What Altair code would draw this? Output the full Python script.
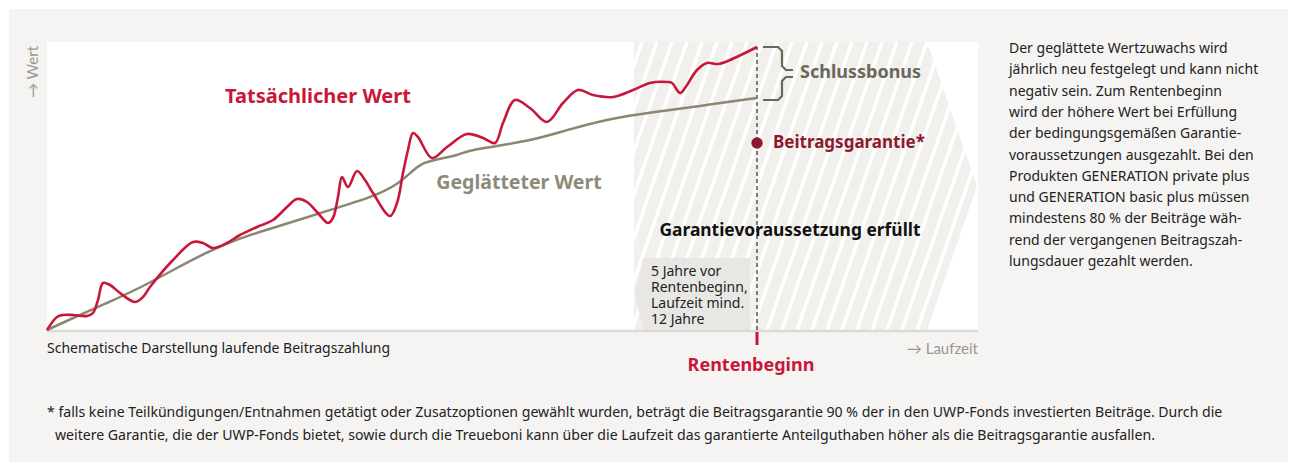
import altair as alt
import pandas as pd

# ---- data (x = Laufzeit, y = Wert, schematic units) ----
real_x = [0, 10, 16, 26, 40, 46, 51, 56, 63, 73, 88, 96, 103, 126, 146, 156, 166, 180, 193, 210,
          226, 240, 250, 260, 270, 281, 286, 291, 295, 301, 310, 318, 326, 343, 350, 356, 361, 366,
          371, 385, 400, 420, 436, 448, 456, 468, 483, 500, 516, 531, 546, 566, 586, 603, 620, 625,
          633, 638, 650, 660, 671, 683, 710]
real_y = [0, 13, 15, 15, 14, 17, 30, 47, 45, 37, 28, 33, 43, 70, 88, 87, 82, 87, 95, 103,
          110, 123, 131, 128, 118, 107, 112, 133, 153, 143, 159, 150, 137, 114, 127, 157, 180, 197,
          193, 172, 183, 196, 192, 187, 207, 230, 222, 208, 227, 240, 235, 233, 240, 247, 248, 247,
          237, 242, 260, 267, 266, 270, 283]

smooth_x = [0, 26, 60, 93, 126, 160, 193, 226, 286, 326, 353, 366, 376, 386, 413, 420, 480, 520,
            560, 606, 653, 710]
smooth_y = [0, 12, 27, 42, 60, 78, 92, 102, 121, 133, 147, 160, 167, 170, 175, 180, 188, 200,
            211, 218, 224, 232]

guarantee_x = [710]
guarantee_y = [187]

rente_x = 710
W, H = 931, 288

RED = "#c8173a"
DARKRED = "#8c1a2f"
GREY_LINE = "#8c8672"
GREY_TXT = "#9b978b"
FONT = "Noto Sans"

xs = alt.Scale(domain=[0, W], nice=False, zero=False)
ys = alt.Scale(domain=[0, H], nice=False, zero=False)

one = pd.DataFrame({"a": [0]})

def vrect(x, x2, y, y2, color):
    return alt.Chart(one).mark_rect(color=color).encode(
        x=alt.value(x), x2=alt.value(x2), y=alt.value(y), y2=alt.value(y2))

def txt(s, x, y, size=14, color="#222222", weight="normal", align="left",
        baseline="middle", angle=0, lh=None, font=FONT):
    kw = dict(font=font, fontSize=size, color=color, fontWeight=weight,
              align=align, baseline=baseline, angle=angle)
    if lh is not None:
        kw["lineHeight"] = lh
    return alt.Chart(one).mark_text(**kw).encode(
        x=alt.value(x), y=alt.value(y), text=alt.value(s))

panel = vrect(-38, 1241, -33, 420, "#f5f4f2")
plotbg = vrect(0, W, 0, H, "#ffffff")

# chevron-shaped grey zone (guarantee phase)
chev = pd.DataFrame({"x": [587, 880, 930], "y": [H, H, 144], "y2": [0, 0, 144]})
chevron = alt.Chart(chev).mark_area(color="#f1f0ed", interpolate="linear").encode(
    x=alt.X("x:Q", scale=xs, axis=None),
    y=alt.Y("y:Q", scale=ys, axis=None), y2="y2:Q")

# white diagonal hatch (decoration)
st = pd.DataFrame({"x": [480 + 15 * i for i in range(34)]})
st["x2"] = st["x"] + 100
st["y"] = 0
st["y2"] = H
stripes = alt.Chart(st).mark_rule(color="#ffffff", strokeWidth=3.5, clip=True).encode(
    x=alt.X("x:Q", scale=xs, axis=None), x2="x2:Q",
    y=alt.Y("y:Q", scale=ys, axis=None), y2="y2:Q")

# grey note box with left notch
bx = pd.DataFrame({"x": [588, 596, 703], "y": [36, 72, 72], "y2": [36, 0, 0]})
box = alt.Chart(bx).mark_area(color="#e8e7e4", interpolate="linear").encode(
    x=alt.X("x:Q", scale=xs, axis=None),
    y=alt.Y("y:Q", scale=ys, axis=None), y2="y2:Q")

baseline_rule = alt.Chart(one).mark_rule(color="#dcdad5", strokeWidth=2.5).encode(
    x=alt.value(0), x2=alt.value(W), y=alt.value(H + 1))

dash = alt.Chart(pd.DataFrame({"x": [rente_x], "y": [0], "y2": [283]})).mark_rule(
    color="#555555", strokeWidth=1.5, strokeDash=[4, 3]).encode(
    x=alt.X("x:Q", scale=xs, axis=None),
    y=alt.Y("y:Q", scale=ys, axis=None), y2="y2:Q")

tick = alt.Chart(pd.DataFrame({"x": [rente_x]})).mark_rule(color=RED, strokeWidth=3).encode(
    x=alt.X("x:Q", scale=xs, axis=None), y=alt.value(H + 2), y2=alt.value(H + 15))

smooth = alt.Chart(pd.DataFrame({"x": smooth_x, "y": smooth_y})).mark_line(
    color=GREY_LINE, strokeWidth=2.5, interpolate="basis").encode(
    x=alt.X("x:Q", scale=xs, axis=None), y=alt.Y("y:Q", scale=ys, axis=None))

real = alt.Chart(pd.DataFrame({"x": real_x, "y": real_y})).mark_line(
    color=RED, strokeWidth=2.6, interpolate="catmull-rom").encode(
    x=alt.X("x:Q", scale=xs, axis=None), y=alt.Y("y:Q", scale=ys, axis=None))

dot = alt.Chart(pd.DataFrame({"x": guarantee_x, "y": guarantee_y})).mark_circle(
    color=DARKRED, size=130, opacity=1).encode(
    x=alt.X("x:Q", scale=xs, axis=None), y=alt.Y("y:Q", scale=ys, axis=None))

# curly bracket for Schlussbonus (annotation shape)
br = pd.DataFrame({
    "x": [716, 731, 735, 735, 739, 746, 746, 739, 735, 735, 731, 716],
    "y": [283, 283, 279, 264, 260, 260, 253, 253, 249, 234, 230, 230],
    "g": ["a"] * 6 + ["b"] * 6,
    "o": list(range(12)),
})
bracket = alt.Chart(br).mark_line(color="#6b675a", strokeWidth=2.2).encode(
    x=alt.X("x:Q", scale=xs, axis=None), y=alt.Y("y:Q", scale=ys, axis=None),
    detail="g:N", order="o:Q")

side_text = ["Der geglättete Wertzuwachs wird",
             "jährlich neu festgelegt und kann nicht",
             "negativ sein. Zum Rentenbeginn",
             "wird der höhere Wert bei Erfüllung",
             "der bedingungsgemäßen Garantie-",
             "voraussetzungen ausgezahlt. Bei den",
             "Produkten GENERATION private plus",
             "und GENERATION basic plus müssen",
             "mindestens 80 % der Beiträge wäh-",
             "rend der vergangenen Beitragszah-",
             "lungsdauer gezahlt werden."]
box_text = ["5 Jahre vor", "Rentenbeginn,", "Laufzeit mind.", "12 Jahre"]
foot1 = ("* falls keine Teilkündigungen/Entnahmen getätigt oder Zusatzoptionen gewählt wurden, "
         "beträgt die Beitragsgarantie 90 % der in den UWP-Fonds investierten Beiträge. Durch die")
foot2 = ("weitere Garantie, die der UWP-Fonds bietet, sowie durch die Treueboni kann über die "
         "Laufzeit das garantierte Anteilguthaben höher als die Beitragsgarantie ausfallen.")

texts = [
    txt("→ Wert", -14, 30, size=15, color=GREY_TXT, align="center", angle=270, font="Lato"),
    txt("Tatsächlicher Wert", 271, 55, size=20, color=RED, weight="bold", align="center"),
    txt("Geglätteter Wert", 472, 141, size=19.5, color="#8e8a78", weight="bold", align="center"),
    txt("Schlussbonus", 753, 31, size=18, color="#6b675a", weight="bold"),
    txt("Beitragsgarantie*", 726, 101, size=17, color=DARKRED, weight="bold"),
    txt("Garantievoraussetzung erfüllt", 743, 189, size=17.4, color="#111111", weight="bold",
        align="center"),
    txt(box_text, 604, 223, size=14, baseline="top", lh=16),
    txt(side_text, 962, 0, size=14, baseline="top", lh=21.3),
    txt("Schematische Darstellung laufende Beitragszahlung", 0, 307, size=14),
    txt("→ Laufzeit", W, 307, size=15, color=GREY_TXT, align="right", font="Lato"),
    txt("Rentenbeginn", 704, 324, size=18, color=RED, weight="bold", align="center"),
    txt(foot1, 0, 371, size=14.1),
    txt(foot2, 8, 393.5, size=14.1),
]

chart = alt.layer(
    panel, plotbg, chevron, stripes, box, baseline_rule, dash, tick,
    smooth, real, dot, bracket, *texts
).properties(
    width=W, height=H,
    autosize=alt.AutoSizeParams(type="none"),
    padding={"left": 47, "top": 42, "right": 318, "bottom": 137},
    background="#ffffff",
).configure_view(stroke="transparent")

chart.save("out.html", embed_options={"renderer": "svg", "actions": False})
